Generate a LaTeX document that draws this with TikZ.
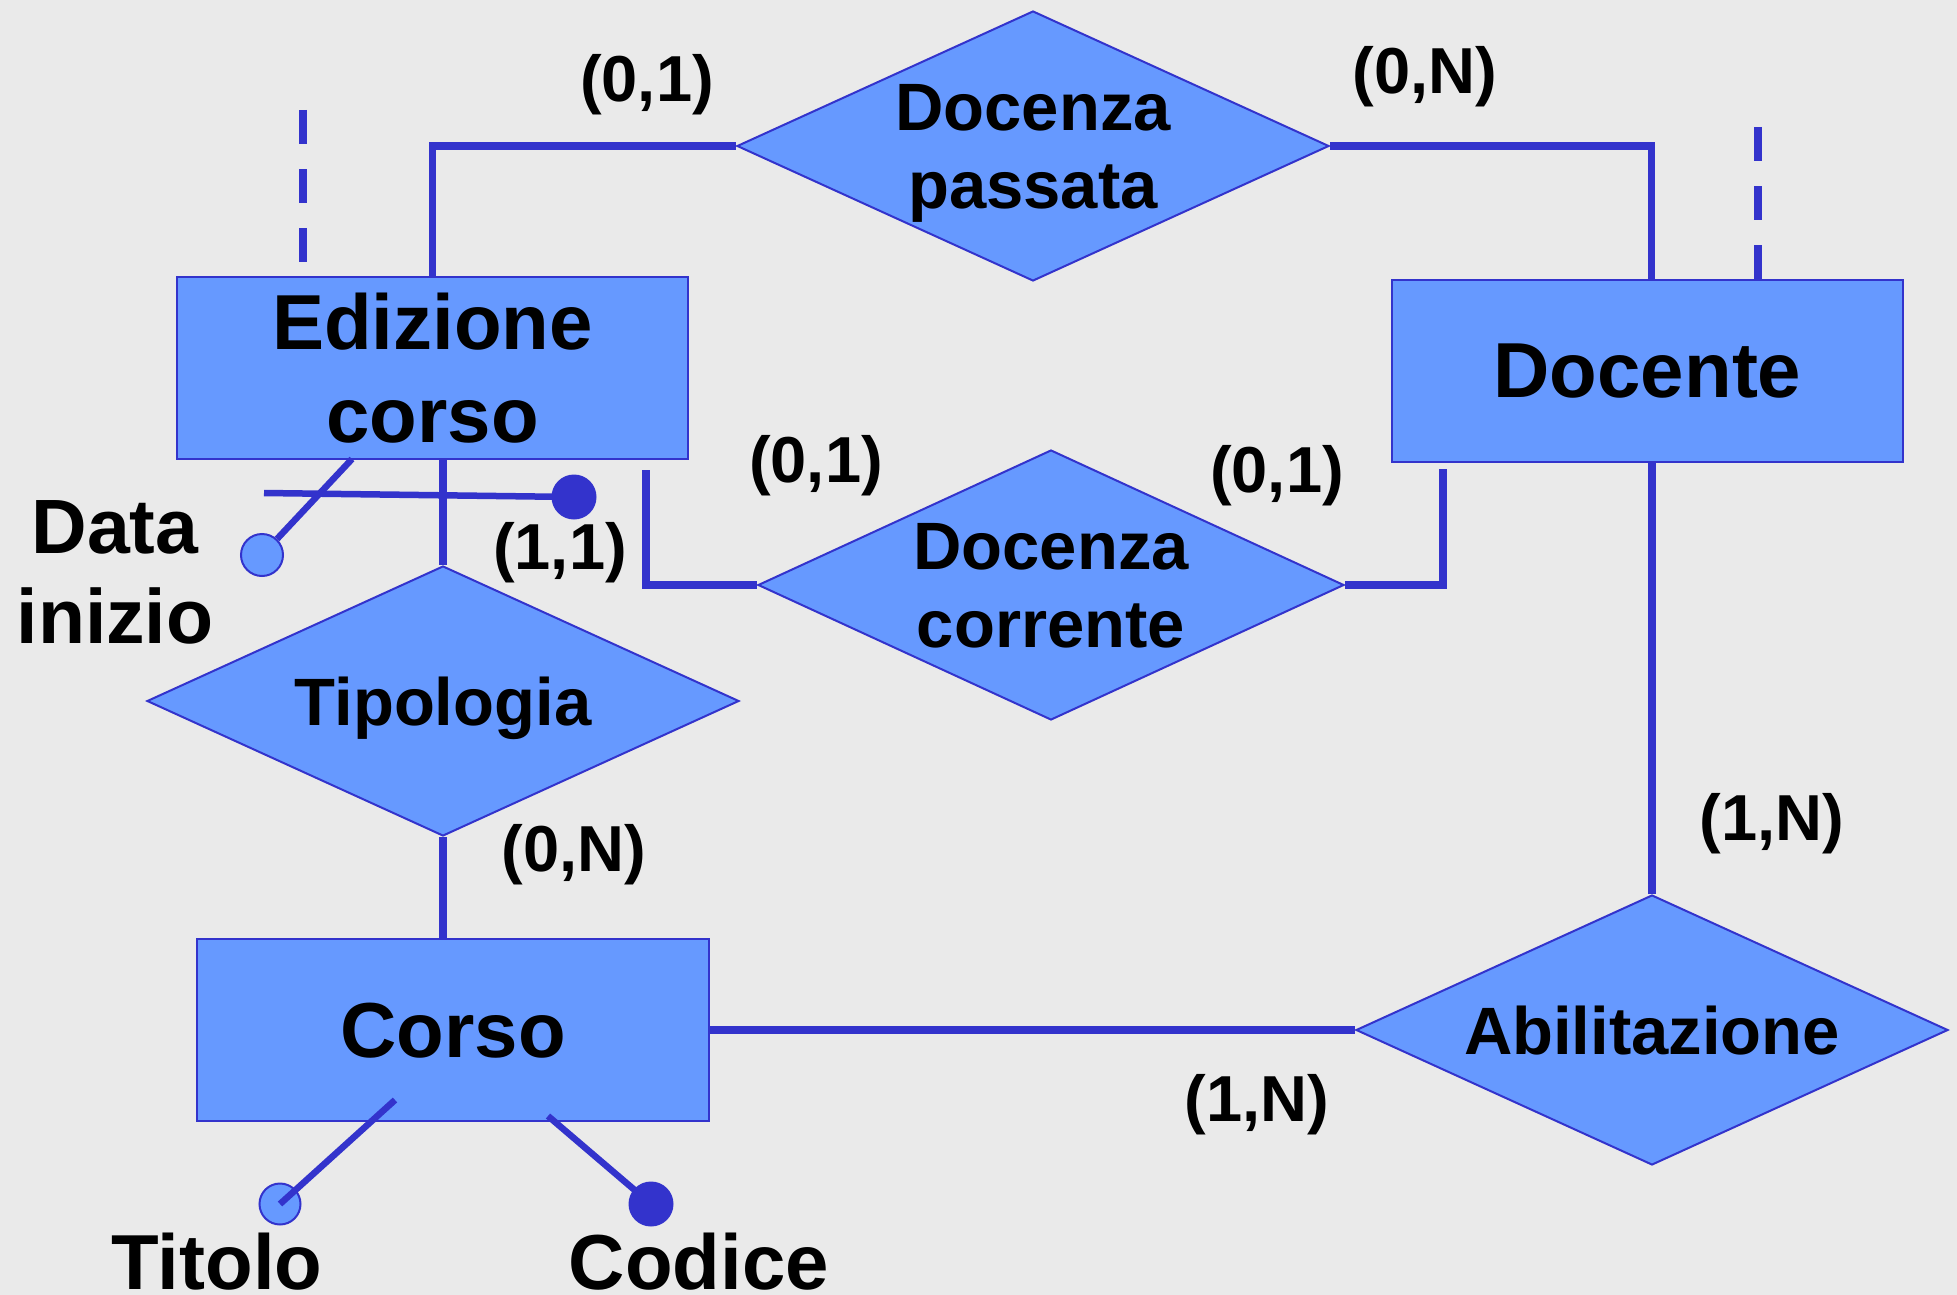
\documentclass[tikz,border=0pt]{standalone}
\usepackage{fontspec}
\setmainfont{Liberation Sans}
\usetikzlibrary{shapes.geometric,calc}
\definecolor{bgc}{RGB}{234,234,234}
\definecolor{erc}{RGB}{51,51,204}
\definecolor{fillc}{RGB}{102,153,255}
\begin{document}
\begin{tikzpicture}[x=1pt,y=-1pt,
  entity/.style={draw=erc,line width=2pt,fill=fillc,rectangle,minimum width=511pt,minimum height=182pt,inner sep=0pt},
  rel/.style={draw=erc,line width=2pt,fill=fillc,diamond,minimum width=592pt,minimum height=270pt,inner sep=0pt},
  etext/.style={font=\fontsize{78}{93}\selectfont\bfseries,align=center,text depth=0pt,inner sep=0pt},
  atext/.style={font=\fontsize{77}{90}\selectfont\bfseries,align=center,text depth=0pt,inner sep=0pt},
  rtext/.style={font=\fontsize{67}{78}\selectfont\bfseries,align=center,text depth=0pt,inner sep=0pt},
  card/.style={font=\fontsize{65}{70}\selectfont\bfseries,inner sep=0pt},
  conn/.style={draw=erc,line width=7.5pt},
  attrline/.style={draw=erc,line width=6.5pt},
  dashline/.style={draw=erc,line width=7.5pt,dash pattern=on 34pt off 25pt},
  opencirc/.style={circle,draw=erc,line width=2pt,fill=fillc,minimum size=42pt,inner sep=0pt},
  keycirc/.style={circle,fill=erc,minimum size=45pt,inner sep=0pt}]
\useasboundingbox (0,0) rectangle (1957,1295);
\fill[bgc] (0,0) rectangle (1957,1295);

% entities
\node[entity] (ed) at (432.5,368) {};
\node[etext] (edt) at (ed.center) {Edizione\\corso};
\node[entity] (doc) at (1647.5,371) {};
\node[etext] (doct) at (doc.center) {Docente};
\node[entity,minimum width=512pt] (co) at (453,1030) {};
\node[etext] (cot) at (co.center) {Corso};

% relationships
\node[rel] (dp) at (1033,146) {};
\node[rtext] (dpt) at (dp.center) {Docenza\\passata};
\node[rel,minimum width=586pt] (dc) at (1051,585) {};
\node[rtext] (dct) at (dc.center) {Docenza\\corrente};
\node[rel] (tip) at (443,701) {};
\node[rtext] (tipt) at (tip.center) {Tipologia};
\node[rel] (ab) at (1652,1030) {};
\node[rtext] (abt) at (ab.center) {Abilitazione};

% connectors
\draw[conn] (ed.north) |- (dp.west);
\draw[conn] (dp.east) -| ([xshift=4pt]doc.north);
\coordinate (edc) at ($(ed.south east)+(-43,10)$);
\draw[conn] (edc) |- (dc.west);
\coordinate (docc) at ($(doc.south west)+(52,6)$);
\draw[conn] (dc.east) -| (docc);
\draw[conn] (tip.north) -- (tip.north |- ed.south);
\draw[conn] (tip.south) -- (tip.south |- co.north);
\draw[conn] (ab.north) -- (ab.north |- doc.south);
\draw[conn] (co.east) -- (ab.west);

% generalization stubs (dashed)
\coordinate (eds1) at (303,110);
\coordinate (eds2) at (303,263);
\draw[dashline] (eds1) -- (eds2);
\coordinate (docs1) at (1758,127);
\coordinate (docs2) at (1758,279);
\draw[dashline] (docs1) -- (docs2);

% attributes of Edizione corso
\node[opencirc] (di) at (262,555) {};
\coordinate (dis) at (352,459);
\draw[attrline] (dis) -- (di);
\node[keycirc] (dik) at (574,497) {};
\coordinate (dil) at (264,493);
\draw[attrline] (dil) -- (dik.center);
\node[atext] (dit) at (115,572) {Data\\inizio};

% attributes of Corso
\node[opencirc,minimum size=41pt] (tic) at (280,1204) {};
\coordinate (tis) at (395,1100);
\draw[attrline] (tis) -- (tic.center);
\node[keycirc] (cdc) at (651,1204) {};
\coordinate (cds) at (548,1116);
\draw[attrline] (cds) -- (cdc.center);
\node[etext,anchor=base] (tit) at (217,1289) {Titolo};
\node[etext,anchor=base] (cdt) at (699,1289) {Codice};

% cardinalities
\node[card] (c1) at (647,85) {(0,1)};
\node[card] (c2) at (1425,77) {(0,N)};
\node[card] (c3) at (816,466) {(0,1)};
\node[card] (c4) at (1277,476) {(0,1)};
\node[card] (c5) at (560,553) {(1,1)};
\node[card] (c6) at (574,855) {(0,N)};
\node[card] (c7) at (1772,824) {(1,N)};
\node[card] (c8) at (1257,1105) {(1,N)};
\end{tikzpicture}
\end{document}
